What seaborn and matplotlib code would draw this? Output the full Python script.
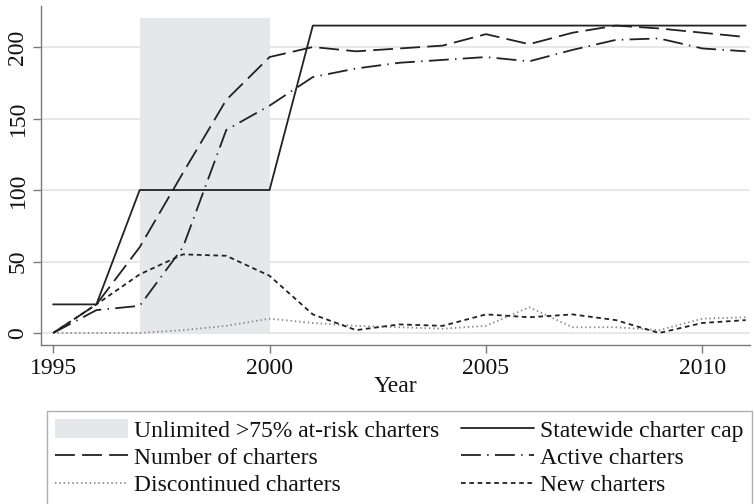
import matplotlib
matplotlib.use("Agg")
import matplotlib.pyplot as plt
import matplotlib.patches as mpatches
import numpy as np
import pandas as pd
import seaborn as sns

# Charter school counts by year
years = list(range(1995, 2012))
statewide_cap = [20, 20, 100, 100, 100, 100, 215, 215, 215, 215, 215, 215, 215, 215, 215, 215, 215]
number_of_charters = [0, 20, 60, 112, 163, 193, 200, 197, 199, 201, 209, 202, 210, 215, 213, 210, 207]
active_charters = [0, 16, 19, 60, 142, 159, 179, 185, 189, 191, 193, 190, 198, 205, 206, 199, 197]
discontinued_charters = [0, 0, 0, 2, 5, 10, 7, 5, 4, 3, 5, 18, 4, 4, 2, 10, 11]
new_charters = [0, 20, 41, 55, 54, 40, 13, 2, 6, 5, 13, 11, 13, 9, 0, 7, 9]

# Period of unlimited >75% at-risk charters
unlimited_period = [1997, 2000]
unlimited_height = 220

series_names = ["Statewide charter cap", "Number of charters", "Active charters",
                "Discontinued charters", "New charters"]
series_values = [statewide_cap, number_of_charters, active_charters,
                 discontinued_charters, new_charters]

df = pd.DataFrame({
    "Year": np.tile(years, len(series_names)),
    "value": np.concatenate(series_values),
    "series": np.repeat(series_names, len(years)),
})

sns.set_theme(style="white")
plt.rcParams["font.family"] = ["Liberation Serif", "DejaVu Serif"]

fig = plt.figure(figsize=(7.54, 5.04), dpi=100)
ax = fig.add_axes([41 / 754, 1 - 345 / 504, (750 - 41) / 754, (345 - 6) / 504])

dark = "#222222"
palette = {
    "Statewide charter cap": dark,
    "Number of charters": dark,
    "Active charters": dark,
    "Discontinued charters": "#8a8a8a",
    "New charters": dark,
}
dashes = {
    "Statewide charter cap": "",
    "Number of charters": (11, 4),
    "Active charters": (11, 3.5, 0.8, 3.5),
    "Discontinued charters": (0.8, 1.6),
    "New charters": (2.6, 2),
}

ax.fill_between(unlimited_period, 0, unlimited_height, color="#e6e7e9", lw=0, zorder=1)

sns.lineplot(data=df, x="Year", y="value", hue="series", style="series",
             palette=palette, dashes=dashes, linewidth=1.3, ax=ax, legend=False,
             zorder=3)

ax.set_xlim(1994.72, 2011.1)
ax.set_ylim(-8.4, 228.7)
ax.set_xticks([1995, 2000, 2005, 2010])
ax.set_yticks([0, 50, 100, 150, 200])
ax.yaxis.grid(True, color="#e6e6e6", lw=1.3, zorder=0)
ax.xaxis.grid(False)
ax.set_axisbelow(True)

for side in ["top", "right"]:
    ax.spines[side].set_visible(False)
for side in ["left", "bottom"]:
    ax.spines[side].set_color("#7a7a7a")
    ax.spines[side].set_linewidth(1.0)

ax.tick_params(axis="both", which="major", direction="out", length=6, width=1.0,
               color="#7a7a7a", labelsize=17, labelcolor="#111111", pad=3,
               bottom=True, left=True)
for lbl in ax.get_yticklabels():
    lbl.set_rotation(90)
    lbl.set_va("center")
ax.set_xlabel("Year", fontsize=17, color="#111111", labelpad=-2)
ax.set_ylabel("")

# Legend
lines = {}
for name in series_names:
    lines[name] = plt.Line2D([], [], color=palette[name], lw=1.3,
                             dashes=dashes[name] if dashes[name] else (None, None))
shade = mpatches.Patch(facecolor="#e6e7e9", edgecolor="none",
                       label="Unlimited >75% at-risk charters")
handles = [shade, lines["Number of charters"], lines["Discontinued charters"],
           lines["Statewide charter cap"], lines["Active charters"], lines["New charters"]]
labels = ["Unlimited >75% at-risk charters", "Number of charters", "Discontinued charters",
          "Statewide charter cap", "Active charters", "New charters"]
leg = fig.legend(handles, labels, ncol=2, loc="upper left",
                 bbox_to_anchor=(47 / 754, 1 - 411 / 504, (752 - 47) / 754, 0.0),
                 mode="expand", fontsize=17, frameon=True, fancybox=False,
                 edgecolor="#9a9a9a", handlelength=3.1, handleheight=0.85,
                 handletextpad=0.25, labelspacing=0.2, borderpad=0.35,
                 borderaxespad=0, columnspacing=0.3)
leg.get_frame().set_linewidth(1.0)
for t in leg.get_texts():
    t.set_color("#111111")

fig.savefig("out.png", dpi=100)
